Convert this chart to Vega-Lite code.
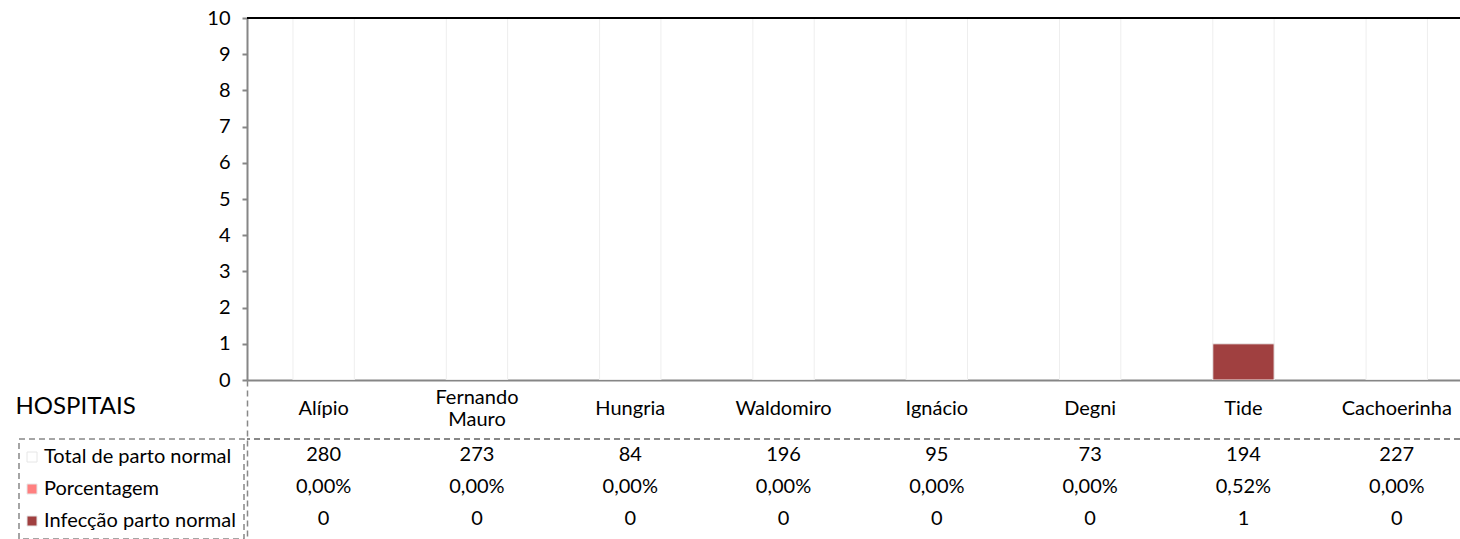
{
  "$schema": "https://vega.github.io/schema/vega-lite/v6.json",
  "autosize": {"type": "none"},
  "padding": {"left": 247, "top": 18, "right": 0, "bottom": 159},
  "width": 1213,
  "height": 362,
  "background": "#ffffff",
  "data": {
    "values": [
      {"hospital": "Alípio", "Total de parto normal": 280, "Porcentagem": 0, "Infecção parto normal": 0},
      {"hospital": "Fernando Mauro", "Total de parto normal": 273, "Porcentagem": 0, "Infecção parto normal": 0},
      {"hospital": "Hungria", "Total de parto normal": 84, "Porcentagem": 0, "Infecção parto normal": 0},
      {"hospital": "Waldomiro", "Total de parto normal": 196, "Porcentagem": 0, "Infecção parto normal": 0},
      {"hospital": "Ignácio", "Total de parto normal": 95, "Porcentagem": 0, "Infecção parto normal": 0},
      {"hospital": "Degni", "Total de parto normal": 73, "Porcentagem": 0, "Infecção parto normal": 0},
      {"hospital": "Tide", "Total de parto normal": 194, "Porcentagem": 0.0052, "Infecção parto normal": 1},
      {"hospital": "Cachoerinha", "Total de parto normal": 227, "Porcentagem": 0, "Infecção parto normal": 0}
    ]
  },
  "layer": [
    {
      "layer": [
        {
          "transform": [{"fold": ["Total de parto normal", "Porcentagem", "Infecção parto normal"], "as": ["serie", "valor"]}],
          "mark": {"type": "bar", "clip": true, "stroke": "#eeeeee", "strokeWidth": 1},
          "encoding": {
            "x": {
              "field": "hospital", "type": "nominal", "sort": null,
              "scale": {"type": "band", "domain": ["Alípio", "Fernando Mauro", "Hungria", "Waldomiro", "Ignácio", "Degni", "Tide", "Cachoerinha"], "range": [0, 1226.4], "paddingInner": 0.6, "paddingOuter": 0.3},
              "axis": {
                "title": "HOSPITAIS", "titleFont": "Lato", "titleFontSize": 24, "titleFontWeight": "normal", "titleColor": "#000000",
                "titleAnchor": "start", "titleAlign": "left", "titleBaseline": "alphabetic", "titleX": -232, "titleY": 33, "titleAngle": 0,
                "labelFont": "Lato", "labelFontSize": 20, "labelColor": "#000000", "labelAngle": 0, "labelBaseline": "middle",
                "labelPadding": {"condition": {"test": "datum.value === 'Fernando Mauro'", "value": 17}, "value": 28},
                "labelLineHeight": 22, "labelExpr": "split(datum.label, ' ')", "labelOverlap": false, "labelLimit": 300,
                "ticks": false, "tickSize": 0, "domainColor": "#868686", "domainWidth": 2, "grid": false
              }
            },
            "y": {
              "field": "valor", "type": "quantitative", "stack": null,
              "scale": {"domain": [0, 10], "nice": false, "zero": true},
              "axis": {
                "title": null, "orient": "left", "values": [0, 1, 2, 3, 4, 5, 6, 7, 8, 9, 10], "tickCount": 11, "grid": false, "labelOverlap": false,
                "labelFont": "Lato", "labelFontSize": 20, "labelColor": "#000000", "labelPadding": 12,
                "tickSize": 5, "tickColor": "#868686", "tickWidth": 2, "domainColor": "#868686", "domainWidth": 2
              }
            },
            "color": {
              "field": "serie", "type": "nominal",
              "scale": {"domain": ["Total de parto normal", "Porcentagem", "Infecção parto normal"], "range": ["#ffffff", "#ff8080", "#a04040"]},
              "legend": {
                "title": null, "orient": "none", "legendX": -228, "legendY": 421, "direction": "vertical",
                "symbolType": "square", "symbolSize": 100, "symbolStrokeColor": "#e6e6e6", "symbolStrokeWidth": 1, "symbolOffset": -5,
                "labelFont": "Lato", "labelFontSize": 20, "labelColor": "#000000", "labelOffset": 2, "labelLimit": 400,
                "rowPadding": 12, "padding": 8, "strokeColor": "#888888"
              }
            }
          }
        },
        {
          "mark": {"type": "rule", "color": "#000000", "strokeWidth": 2},
          "encoding": {
            "y": {
              "datum": 10, "type": "quantitative",
              "axis": {
                "title": null, "orient": "left", "values": [0, 1, 2, 3, 4, 5, 6, 7, 8, 9, 10], "tickCount": 11, "grid": false, "labelOverlap": false,
                "labelFont": "Lato", "labelFontSize": 20, "labelColor": "#000000", "labelPadding": 12,
                "tickSize": 5, "tickColor": "#868686", "tickWidth": 2, "domainColor": "#868686", "domainWidth": 2
              }
            }
          }
        }
      ]
    },
    {
      "layer": [
        {
          "mark": {"type": "text", "font": "Lato", "fontSize": 20, "color": "#000000", "align": "center", "baseline": "middle"},
          "encoding": {
            "x": {"field": "hospital", "type": "nominal", "sort": null},
            "y": {
              "datum": "Total de parto normal", "type": "nominal",
              "scale": {"type": "band", "domain": ["Total de parto normal", "Porcentagem", "Infecção parto normal"], "range": [362, 521], "paddingInner": 0, "paddingOuter": 0.984375, "align": 0.9365},
              "axis": {"orient": "left", "title": null, "labels": false, "ticks": false, "grid": false, "domain": true, "domainColor": "#888888", "domainWidth": 1.5, "domainDash": [6, 4]}
            },
            "text": {"field": "Total de parto normal", "type": "quantitative", "format": "d"}
          }
        },
        {
          "mark": {"type": "text", "font": "Lato", "fontSize": 20, "color": "#000000", "align": "center", "baseline": "middle"},
          "encoding": {
            "x": {"field": "hospital", "type": "nominal", "sort": null},
            "y": {"datum": "Porcentagem", "type": "nominal"},
            "text": {"field": "Porcentagem", "type": "quantitative", "format": ".2%"}
          }
        },
        {
          "mark": {"type": "text", "font": "Lato", "fontSize": 20, "color": "#000000", "align": "center", "baseline": "middle"},
          "encoding": {
            "x": {"field": "hospital", "type": "nominal", "sort": null},
            "y": {"datum": "Infecção parto normal", "type": "nominal"},
            "text": {"field": "Infecção parto normal", "type": "quantitative", "format": "d"}
          }
        },
        {
          "mark": {"type": "rule", "color": "#888888", "strokeWidth": 1.5, "strokeDash": [6, 4]},
          "encoding": {"y": {"datum": "Total de parto normal", "type": "nominal", "bandPosition": 0}}
        }
      ]
    }
  ],
  "resolve": {"scale": {"y": "independent"}, "axis": {"y": "independent"}},
  "config": {
    "view": {"stroke": null},
    "legend": {"strokeDash": [6, 4], "strokeWidth": 1.5},
    "locale": {"number": {"decimal": ",", "thousands": ".", "grouping": [3], "currency": ["R$", ""]}}
  }
}
